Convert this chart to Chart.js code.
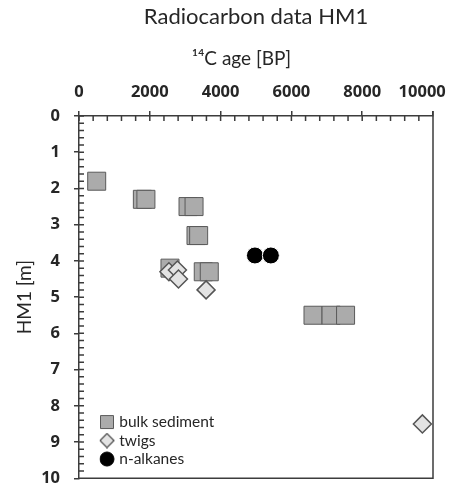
<!DOCTYPE html>
<html>
<head>
<meta charset="utf-8">
<script src="https://cdn.jsdelivr.net/npm/chart.js@4"></script>
<style>
html,body{margin:0;padding:0;background:#fff;}
canvas{display:block;}
</style>
</head>
<body>
<canvas id="c" width="457" height="492"></canvas>
<script>
// ---- text ----
const titleText = 'Radiocarbon data HM1';
const xTitle = '\u00B9\u2074C age [BP]';
const yTitle = 'HM1 [m]';
const seriesNames = ['bulk sediment', 'twigs', 'n-alkanes'];

// ---- tick labels ----
const xTicks = [0, 2000, 4000, 6000, 8000, 10000];
const xTickLabels = ['0', '2000', '4000', '6000', '8000', '10000'];
const yTicks = [0, 1, 2, 3, 4, 5, 6, 7, 8, 9, 10];
const yTickLabels = ['0', '1', '2', '3', '4', '5', '6', '7', '8', '9', '10'];

// ---- series: bulk sediment ----
const bulkAge   = [500, 1790, 1890, 3080, 3250, 3305, 3380, 2570, 3510, 3680, 6610, 7120, 7530];
const bulkDepth = [1.8, 2.3, 2.3, 2.5, 2.5, 3.3, 3.3, 4.2, 4.3, 4.3, 5.5, 5.5, 5.5];

// ---- series: twigs ----
const twigAge   = [2540, 2780, 2810, 3590, 9700];
const twigDepth = [4.3, 4.25, 4.5, 4.8, 8.5];

// ---- series: n-alkanes ----
const alkAge   = [4970, 5420];
const alkDepth = [3.85, 3.85];

// ---- styles ----
const FONT = 'Lato, "Open Sans", sans-serif';
const TICKFONT = '"Open Sans", Lato, sans-serif';
const axisColor = '#3c3c3c';
const textColor = '#262626';
const bulkFill = '#ababab', bulkLine = '#5a5a5a';
const twigFill = '#e3e3e3', twigLine = '#555555';
const alkFill = '#000000', alkLine = '#ffffff';

Chart.defaults.font.family = FONT;
Chart.defaults.color = textColor;

function pts(xs, ys) { return xs.map((v, i) => ({x: v, y: ys[i]})); }

function icon(kind) {
  const s = 16;
  const cv = document.createElement('canvas');
  cv.width = s; cv.height = s;
  const g = cv.getContext('2d');
  const c = s / 2;
  g.beginPath();
  if (kind === 'rect') {
    g.rect(1.5, 1.5, 13, 13);
    g.fillStyle = bulkFill; g.strokeStyle = bulkLine; g.lineWidth = 1;
  } else if (kind === 'diamond') {
    g.moveTo(c, 1); g.lineTo(s - 1, c); g.lineTo(c, s - 1); g.lineTo(1, c); g.closePath();
    g.fillStyle = twigFill; g.strokeStyle = twigLine; g.lineWidth = 1.3;
  } else {
    g.arc(c, c, 7, 0, Math.PI * 2);
    g.fillStyle = alkFill; g.strokeStyle = alkFill; g.lineWidth = 1;
  }
  g.fill(); g.stroke();
  return cv;
}
const legendIcons = [icon('rect'), icon('diamond'), icon('circle')];

const tickPlugin = {
  id: 'minorTicks',
  beforeDatasetsDraw(chart) {
    const {ctx, chartArea: a, scales: {x, y}} = chart;
    ctx.save();
    ctx.strokeStyle = axisColor;
    ctx.lineWidth = 1.5;
    ctx.beginPath();
    for (let v = 0; v <= 10000 + 1e-6; v += 400) {
      const px = x.getPixelForValue(v);
      ctx.moveTo(px, a.top); ctx.lineTo(px, a.top + 5);
    }
    for (let k = 0; k <= 50; k++) {
      const py = y.getPixelForValue(k * 0.2);
      ctx.moveTo(a.left, py); ctx.lineTo(a.left + 5, py);
    }
    ctx.moveTo(a.right, a.top - 5); ctx.lineTo(a.right, a.bottom);
    ctx.lineTo(a.left, a.bottom);
    ctx.stroke();
    ctx.restore();
  },
  afterLayout(chart) {
    const lg = chart.legend;
    const a = chart.chartArea;
    if (lg) { lg.left = a.left + 20.5; lg.right = a.right; lg.top = a.top; lg.bottom = a.bottom - 8.5; }
  }
};

new Chart(document.getElementById('c'), {
  type: 'scatter',
  data: {
    datasets: [
      { label: seriesNames[0], data: pts(bulkAge, bulkDepth), pointStyle: 'rect', pointRadius: 12.73,
        backgroundColor: bulkFill, borderColor: bulkLine, borderWidth: 1, order: 3 },
      { label: seriesNames[1], data: pts(twigAge, twigDepth), pointStyle: 'rectRot', pointRadius: 9,
        backgroundColor: twigFill, borderColor: twigLine, borderWidth: 1.5, order: 2 },
      { label: seriesNames[2], data: pts(alkAge, alkDepth), pointStyle: 'circle', pointRadius: 8.5,
        backgroundColor: alkFill, borderColor: alkLine, borderWidth: 1, order: 1 }
    ]
  },
  options: {
    responsive: false,
    animation: false,
    events: [],
    layout: { padding: { left: 0, right: 24, top: 0, bottom: 5 } },
    plugins: {
      title: {
        display: true, text: titleText, fullSize: false,
        font: { size: 22, weight: 'normal', lineHeight: '24px' },
        color: textColor, padding: { top: 5, bottom: 0 }
      },
      legend: {
        display: true, position: 'chartArea', align: 'end',
        labels: {
          usePointStyle: true, boxWidth: 9, padding: 3,
          font: { size: 15.5 }, color: textColor,
          sort: (a, b) => a.datasetIndex - b.datasetIndex,
          generateLabels(chart) {
            const items = Chart.defaults.plugins.legend.labels.generateLabels(chart);
            items.forEach(it => { it.pointStyle = legendIcons[it.datasetIndex]; });
            return items;
          }
        }
      },
      tooltip: { enabled: false }
    },
    scales: {
      x: {
        type: 'linear', position: 'top', min: 0, max: 10000,
        afterBuildTicks: s => { s.ticks = xTicks.map(v => ({ value: v })); },
        afterFit: s => { s.height = 87; s.paddingLeft = 0; s.paddingRight = 0; },
        ticks: {
          font: { family: TICKFONT, size: 16.5, weight: 'bold' }, color: textColor, padding: 9,
          maxRotation: 0, minRotation: 0, autoSkip: false,
          callback: (v, i) => {
            const lab = xTickLabels[xTicks.indexOf(v)];
            return v === 10000 ? lab + '\u2007\u2007\u2009' : lab;
          }
        },
        grid: { display: true, drawOnChartArea: false, drawTicks: true, tickLength: 5, color: axisColor, lineWidth: 1.5 },
        border: { display: true, color: axisColor, width: 1.5 },
        title: { display: true, text: xTitle + '      ', font: { size: 19 }, color: textColor, padding: { top: 18.6, bottom: 0 } }
      },
      y: {
        type: 'linear', position: 'left', reverse: true, min: 0, max: 10,
        afterBuildTicks: s => { s.ticks = yTicks.map(v => ({ value: v })); },
        afterFit: s => { s.width = 79; s.paddingTop = 0; s.paddingBottom = 0; },
        ticks: {
          font: { family: TICKFONT, size: 16.5, weight: 'bold' }, color: textColor, padding: 14, autoSkip: false,
          callback: v => yTickLabels[yTicks.indexOf(v)]
        },
        grid: { display: true, drawOnChartArea: false, drawTicks: true, tickLength: 5, color: axisColor, lineWidth: 1.5 },
        border: { display: true, color: axisColor, width: 1.5 },
        title: { display: true, text: yTitle, font: { size: 19 }, color: textColor, padding: { top: 13.6, bottom: 0 } }
      }
    }
  },
  plugins: [tickPlugin]
});
</script>
</body>
</html>
